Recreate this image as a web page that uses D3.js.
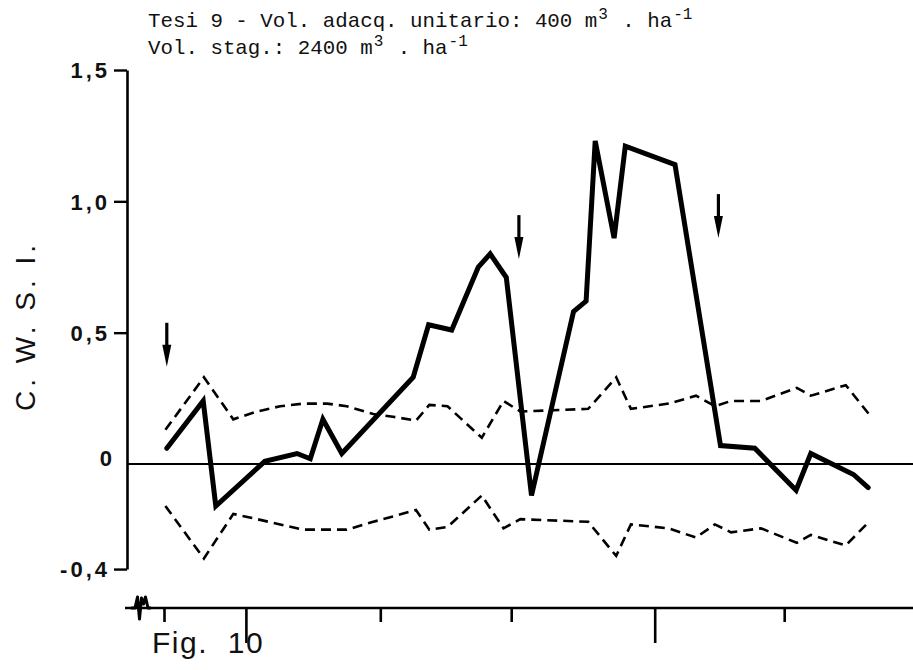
<!DOCTYPE html>
<html><head><meta charset="utf-8">
<script src="https://cdn.jsdelivr.net/npm/d3@7"></script>
<style>body{margin:0;background:#fff;} svg{display:block;}</style>
</head><body>
<svg id="chart" width="913" height="670"></svg>
<script>
// ---- data ----
const solidDays = [0.4, 5.6, 7.4, 14.4, 19.0, 20.9, 22.7, 25.4, 35.6, 37.8, 41.1, 44.9, 46.6, 48.9, 52.5, 58.5, 60.3, 61.6, 64.3, 65.9, 73.0, 79.5, 84.4, 90.3, 92.4, 98.5, 100.6];
const solidCWSI = [0.06, 0.24, -0.16, 0.01, 0.04, 0.02, 0.17, 0.04, 0.33, 0.53, 0.51, 0.75, 0.80, 0.71, -0.12, 0.58, 0.62, 1.23, 0.86, 1.21, 1.14, 0.07, 0.06, -0.10, 0.04, -0.04, -0.09];
const bandDays = [0.2, 5.7, 9.9, 13.3, 16.6, 19.9, 23.3, 26.1, 29.9, 32.7, 36.0, 37.9, 40.5, 45.4, 48.5, 50.9, 60.6, 64.6, 66.7, 72.1, 76.0, 78.7, 81.0, 85.3, 90.4, 92.4, 97.4, 100.7];
const bandUpper = [0.13, 0.33, 0.17, 0.20, 0.22, 0.23, 0.23, 0.22, 0.19, 0.18, 0.165, 0.225, 0.22, 0.10, 0.24, 0.20, 0.21, 0.33, 0.21, 0.23, 0.26, 0.22, 0.24, 0.24, 0.29, 0.26, 0.30, 0.19];
const bandLower = [-0.16, -0.36, -0.19, -0.21, -0.23, -0.25, -0.25, -0.25, -0.22, -0.20, -0.175, -0.25, -0.24, -0.12, -0.245, -0.21, -0.22, -0.35, -0.23, -0.245, -0.28, -0.23, -0.26, -0.245, -0.30, -0.27, -0.31, -0.22];
const irrigationDays = [0.4, 50.7, 79.2];
const irrigationLevel = [0.37, 0.78, 0.86];
const yTickValues = [1.5, 1.0, 0.5, 0, -0.4];
const yTickLabels = ["1,5", "1,0", "0,5", "0", "-0,4"];
const xTickValues = [0, 11.7, 30.9, 49.6, 70.1, 88.6];
const xTickMajor = [false, true, false, false, true, false];
const titleMain = ["Tesi 9 - Vol. adacq. unitario: 400 m", "Vol. stag.: 2400 m"];
const yLabel = "C. W. S. I.";
const figLabel = "Fig. 10";

// ---- scales ----
const svg = d3.select("#chart");
const x = d3.scaleLinear().domain([0, 100]).range([164, 864]);
const y = d3.scaleLinear().domain([-0.4, 1.5]).range([569.07, 70]);
const axisX = 127, bottomY = 608;

// ---- title ----
const title = svg.append("g").attr("font-family", "'Liberation Mono', 'DejaVu Sans Mono', monospace")
  .attr("font-size", 20.8).attr("fill", "#111");
function titleLine(yy, main) {
  const t = title.append("text").attr("x", 148).attr("y", yy).attr("xml:space", "preserve");
  t.append("tspan").text(main);
  t.append("tspan").attr("font-size", 16).attr("dx", 1).attr("dy", -8).text("3");
  t.append("tspan").attr("dx", 14.4).attr("dy", 8).text(". ha");
  t.append("tspan").attr("font-size", 16).attr("dx", 1).attr("dy", -8).text("-1");
}
titleLine(27, titleMain[0]);
titleLine(54, titleMain[1]);

// ---- y axis ----
const yAxis = d3.axisLeft(y).tickValues(yTickValues).tickSize(13).tickSizeOuter(0)
  .tickFormat((d, i) => yTickLabels[i]).tickPadding(4);
const gy = svg.append("g").attr("transform", `translate(${axisX},0)`).call(yAxis);
gy.select(".domain").attr("stroke", "#000").attr("stroke-width", 2.6);
gy.selectAll(".tick line").attr("stroke", "#000").attr("stroke-width", 2.4)
  .attr("display", d => d === 0 ? "none" : null);
gy.selectAll(".tick text").attr("font-family", "'Liberation Sans', Arial, sans-serif")
  .attr("font-size", 22).attr("font-weight", "bold").attr("fill", "#111")
  .attr("letter-spacing", 3)
  .attr("dy", d => d === 0 ? "0.05em" : "0.35em")
  .attr("x", d => d === 0 ? -12 : -17);

svg.append("text").attr("transform", `translate(35,326) rotate(-90)`)
  .attr("text-anchor", "middle").attr("font-family", "'Liberation Sans', Arial, sans-serif")
  .attr("font-size", 28).attr("letter-spacing", 4).attr("fill", "#111").text(yLabel);

// ---- zero line ----
svg.append("line").attr("x1", axisX).attr("x2", 913).attr("y1", y(0)).attr("y2", y(0))
  .attr("stroke", "#000").attr("stroke-width", 2);

// ---- bottom axis ----
svg.append("line").attr("x1", 125).attr("x2", 913).attr("y1", bottomY).attr("y2", bottomY)
  .attr("stroke", "#000").attr("stroke-width", 2.6);
svg.append("path").attr("d", "M131,608 L135,608 L137.5,597 L139.5,619 L141.5,598 L143.5,604 L145.5,597 L148,608 L151,608")
  .attr("fill", "none").attr("stroke", "#000").attr("stroke-width", 3).attr("stroke-linejoin", "round");
const xAxis = d3.axisBottom(x).tickValues(xTickValues).tickSize(14).tickFormat("");
const gx = svg.append("g").attr("transform", `translate(0,${bottomY})`).call(xAxis);
gx.select(".domain").remove();
gx.selectAll(".tick line").attr("stroke", "#000").attr("stroke-width", 2.6)
  .attr("y2", (d, i) => xTickMajor[i] ? 35 : 14);

svg.append("text").attr("x", 152).attr("y", 653).attr("font-family", "'Liberation Sans', Arial, sans-serif")
  .attr("font-size", 30).attr("letter-spacing", 1.5).attr("word-spacing", 10).attr("fill", "#111").text(figLabel);

// ---- dashed bands ----
const bandLine = (arr) => d3.line().x((d, i) => x(bandDays[i])).y((d, i) => y(arr[i]));
[bandUpper, bandLower].forEach(arr => {
  svg.append("path").attr("d", bandLine(arr)(arr)).attr("fill", "none")
    .attr("stroke", "#000").attr("stroke-width", 2.6).attr("stroke-dasharray", "10,6");
});

// ---- solid CWSI line ----
const solid = d3.line().x((d, i) => x(solidDays[i])).y((d, i) => y(solidCWSI[i]));
svg.append("path").attr("d", solid(solidCWSI)).attr("fill", "none")
  .attr("stroke", "#000").attr("stroke-width", 5).attr("stroke-linejoin", "miter")
  .attr("stroke-miterlimit", 3).attr("stroke-linecap", "round");

// ---- irrigation arrows ----
irrigationDays.forEach((d, i) => {
  const ax = x(d), tip = y(irrigationLevel[i]);
  svg.append("line").attr("x1", ax).attr("x2", ax).attr("y1", tip - 44).attr("y2", tip - 15)
    .attr("stroke", "#000").attr("stroke-width", 3.2);
  svg.append("path").attr("d", `M${ax - 4.5},${tip - 22} L${ax + 4.5},${tip - 22} L${ax},${tip} Z`)
    .attr("fill", "#000");
});
</script>
</body></html>
